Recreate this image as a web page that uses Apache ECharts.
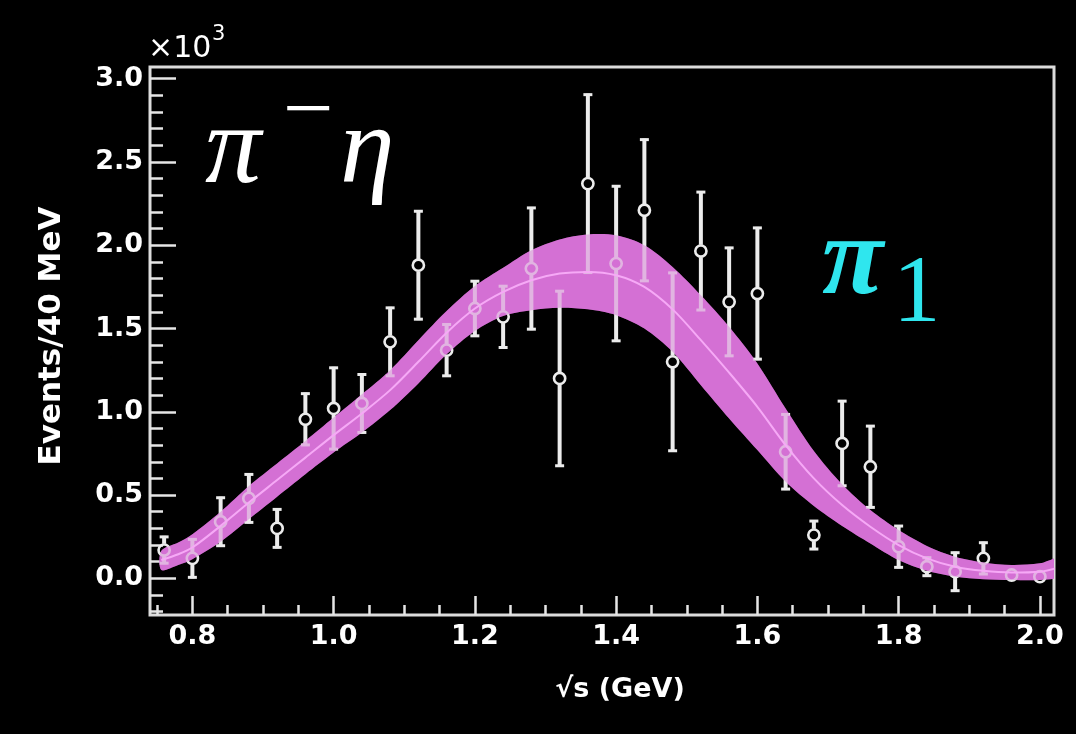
<!DOCTYPE html>
<html>
<head>
<meta charset="utf-8">
<script src="https://cdn.jsdelivr.net/npm/echarts@6/dist/echarts.min.js"></script>
<style>
html,body{margin:0;padding:0;background:#000;}
#chart{width:1076px;height:734px;}
</style>
</head>
<body>
<div id="chart"></div>
<script>
// ---- data (Events / 40 MeV, in units of 10^3) ----
const binCenters = [0.76,0.80,0.84,0.88,0.92,0.96,1.00,1.04,1.08,1.12,1.16,1.20,1.24,1.28,1.32,1.36,
                    1.40,1.44,1.48,1.52,1.56,1.60,1.64,1.68,1.72,1.76,1.80,1.84,1.88,1.92,1.96,2.00];
const counts = [0.17,0.12,0.34,0.48,0.30,0.955,1.02,1.05,1.42,1.88,1.37,1.62,1.57,1.86,1.20,2.37,
                1.89,2.21,1.30,1.965,1.66,1.71,0.76,0.26,0.81,0.67,0.19,0.07,0.04,0.12,0.02,0.01];
const errors = [0.085,0.12,0.15,0.15,0.12,0.16,0.25,0.18,0.21,0.33,0.16,0.17,0.19,0.37,0.53,0.54,
                0.47,0.43,0.54,0.36,0.33,0.40,0.23,0.09,0.26,0.25,0.13,0.06,0.12,0.10,0.0,0.0];

// fit curve (pi_1) with uncertainty band
const fitX      = [0.756,0.78,0.80,0.84,0.88,0.92,0.96,1.00,1.04,1.08,1.12,1.16,1.20,1.24,1.28,1.32,1.36,
                   1.40,1.44,1.48,1.52,1.56,1.60,1.64,1.68,1.72,1.76,1.80,1.84,1.88,1.92,1.96,2.00,2.03];
const fitCenter = [0.11,0.145,0.185,0.315,0.455,0.59,0.725,0.86,0.99,1.13,1.30,1.475,1.62,1.72,1.79,1.83,1.84,
                   1.82,1.75,1.615,1.43,1.235,1.03,0.80,0.60,0.44,0.31,0.20,0.12,0.07,0.045,0.035,0.04,0.07];
const fitUpper  = [0.165,0.215,0.265,0.40,0.555,0.69,0.825,0.965,1.105,1.25,1.43,1.605,1.755,1.865,1.97,2.035,2.065,
                   2.06,2.00,1.87,1.70,1.51,1.29,1.02,0.765,0.565,0.41,0.29,0.195,0.13,0.095,0.08,0.09,0.125];
const fitLower  = [0.05,0.08,0.115,0.22,0.355,0.49,0.625,0.755,0.875,1.01,1.17,1.345,1.485,1.575,1.61,1.625,1.615,
                   1.58,1.50,1.36,1.16,0.96,0.77,0.58,0.435,0.315,0.21,0.11,0.045,0.01,-0.005,-0.01,-0.01,0.015];

// axis ticks
const xMajorTicks = [0.8,1.0,1.2,1.4,1.6,1.8,2.0];
const xMinorTicks = [0.75,0.85,0.9,0.95,1.05,1.1,1.15,1.25,1.3,1.35,1.45,1.5,1.55,1.65,1.7,1.75,1.85,1.9,1.95];
const yMajorTicks = [0.0,0.5,1.0,1.5,2.0,2.5,3.0];
const yMinorTicks = [-0.2,-0.1,0.1,0.2,0.3,0.4,0.6,0.7,0.8,0.9,1.1,1.2,1.3,1.4,1.6,1.7,1.8,1.9,
                     2.1,2.2,2.3,2.4,2.6,2.7,2.8,2.9];

const X_MIN = 0.74, X_MAX = 2.02, Y_MIN = -0.22, Y_MAX = 3.07;

const chart = echarts.init(document.getElementById('chart'), null, {renderer:'canvas'});

const labelStyle = {color:'#fff', fontFamily:'DejaVu Sans', fontWeight:'bold', fontSize:27};

function bandRenderer(fill){
  return function(params, api){
    if (params.dataIndex !== 0) return null;
    const pts = [];
    for (let i = 0; i < fitX.length; i++) pts.push(api.coord([fitX[i], fitUpper[i]]));
    for (let i = fitX.length - 1; i >= 0; i--) pts.push(api.coord([fitX[i], fitLower[i]]));
    return {type:'polygon', shape:{points:pts, smooth:0.3}, style:{fill:fill}, silent:true};
  };
}

function errorBarRenderer(params, api){
  const x = api.value(0), y = api.value(1), e = api.value(2);
  const p = api.coord([x, y]);
  const t = api.coord([x, y + e]);
  const b = api.coord([x, y - e]);
  const r = 6.2;
  const col = '#ececec';
  const children = [];
  if (p[1] - t[1] > r) {
    children.push({type:'line', shape:{x1:p[0], y1:t[1], x2:p[0], y2:p[1]-r}, style:{stroke:col, lineWidth:4}});
    children.push({type:'line', shape:{x1:p[0]-4.5, y1:t[1]+1, x2:p[0]+4.5, y2:t[1]+1}, style:{stroke:col, lineWidth:3}});
  }
  if (b[1] - p[1] > r) {
    children.push({type:'line', shape:{x1:p[0], y1:p[1]+r, x2:p[0], y2:b[1]}, style:{stroke:col, lineWidth:4}});
    children.push({type:'line', shape:{x1:p[0]-4.5, y1:b[1]-1, x2:p[0]+4.5, y2:b[1]-1}, style:{stroke:col, lineWidth:3}});
  }
  children.push({type:'circle', shape:{cx:p[0], cy:p[1], r:5.6}, style:{stroke:col, lineWidth:2.6, fill:null}});
  return {type:'group', children:children};
}

const tickLine = {color:'#e6e6e6', width:2.5};

const option = {
  backgroundColor:'#000',
  animation:false,
  grid:{left:150, right:22, top:67, bottom:119, show:true, borderColor:'#dcdcdc', borderWidth:3, backgroundColor:'transparent'},
  xAxis:[
    {type:'value', min:X_MIN, max:X_MAX, position:'bottom',
     axisLine:{show:false, onZero:false}, splitLine:{show:false},
     axisTick:{show:true, inside:true, length:19, customValues:xMajorTicks, lineStyle:tickLine},
     axisLabel:{show:true, customValues:xMajorTicks, margin:8, formatter:v=>v.toFixed(1), ...labelStyle}},
    {type:'value', min:X_MIN, max:X_MAX, position:'bottom',
     axisLine:{show:false, onZero:false}, splitLine:{show:false}, axisLabel:{show:false},
     axisTick:{show:true, inside:true, length:10, customValues:xMinorTicks, lineStyle:tickLine}}
  ],
  yAxis:[
    {type:'value', min:Y_MIN, max:Y_MAX, position:'left',
     axisLine:{show:false, onZero:false}, splitLine:{show:false},
     axisTick:{show:true, inside:true, length:26, customValues:yMajorTicks, lineStyle:tickLine},
     axisLabel:{show:true, customValues:yMajorTicks, margin:7, formatter:v=>v.toFixed(1), ...labelStyle}},
    {type:'value', min:Y_MIN, max:Y_MAX, position:'left',
     axisLine:{show:false, onZero:false}, splitLine:{show:false}, axisLabel:{show:false},
     axisTick:{show:true, inside:true, length:13, customValues:yMinorTicks, lineStyle:tickLine}}
  ],
  series:[
    {type:'custom', name:'band', xAxisIndex:0, yAxisIndex:0, clip:true, z:1,
     renderItem:bandRenderer('#d470d4'), data:[[1.3, 1.0]], encode:{x:0, y:1}},
    {type:'custom', name:'data', xAxisIndex:0, yAxisIndex:0, clip:true, z:2,
     renderItem:errorBarRenderer, data:binCenters.map((x,i)=>[x, counts[i], errors[i]]), encode:{x:0, y:1}},
    {type:'custom', name:'bandOverlay', xAxisIndex:0, yAxisIndex:0, clip:true, z:3,
     renderItem:bandRenderer('rgba(212,112,212,0.45)'), data:[[1.3, 1.0]], encode:{x:0, y:1}},
    {type:'line', name:'fit', xAxisIndex:0, yAxisIndex:0, z:4, clip:true,
     smooth:0.3, showSymbol:false, symbol:'none',
     lineStyle:{color:'#f6a9f6', width:2},
     data:fitX.map((x,i)=>[x, fitCenter[i]])}
  ],
  graphic:[
    {type:'text', x:52, y:336, rotation:Math.PI/2, z:10,
     style:{text:'Events/40 MeV', fill:'#fff', font:'bold 31px "DejaVu Sans"', align:'center', verticalAlign:'middle'}},
    {type:'text', x:620, y:690, z:10,
     style:{text:'√s (GeV)', fill:'#fff', font:'bold 27px "DejaVu Sans"', align:'center', verticalAlign:'middle'}},
    {type:'text', x:148, y:49, z:10,
     style:{text:'×10', fill:'#fff', font:'30px "DejaVu Sans"', align:'left', verticalAlign:'middle'}},
    {type:'text', x:212, y:35, z:10,
     style:{text:'3', fill:'#fff', font:'21px "DejaVu Sans"', align:'left', verticalAlign:'middle'}},
    {type:'text', x:205, y:153, z:10,
     style:{text:'π', fill:'#fff', font:'italic 112px "Liberation Serif"', align:'left', verticalAlign:'middle'}},
    {type:'text', x:283, y:114, z:10,
     style:{text:'−', fill:'#fff', font:'90px "Liberation Serif"', align:'left', verticalAlign:'middle'}},
    {type:'text', x:340, y:153, z:10,
     style:{text:'η', fill:'#fff', font:'italic 110px "Liberation Serif"', align:'left', verticalAlign:'middle'}},
    {type:'text', x:822, y:264, z:10,
     style:{text:'π', fill:'#2fe6ee', font:'bold italic 112px "Liberation Serif"', align:'left', verticalAlign:'middle'}},
    {type:'text', x:893, y:296, z:10,
     style:{text:'1', fill:'#2fe6ee', font:'95px "Liberation Serif"', align:'left', verticalAlign:'middle'}}
  ]
};
chart.setOption(option);
</script>
</body>
</html>
